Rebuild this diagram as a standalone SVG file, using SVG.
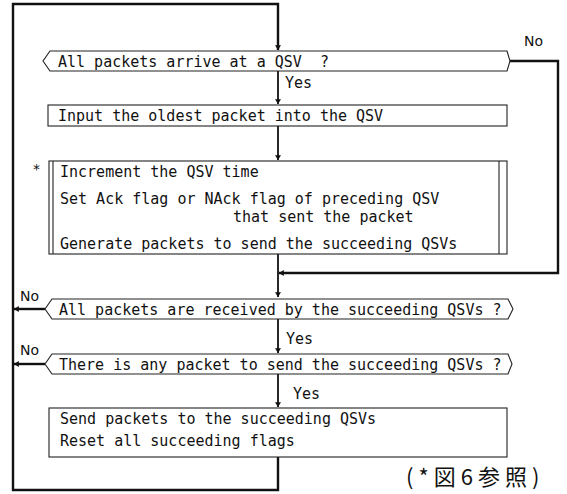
<svg xmlns="http://www.w3.org/2000/svg" width="567" height="494" viewBox="0 0 567 494">
<style>
.t{font-family:"DejaVu Sans Mono","Liberation Mono",monospace;font-size:15px;fill:#111}
.s{font-family:"DejaVu Sans","Liberation Sans",sans-serif;font-size:14px;fill:#111}
.box{fill:#fff;stroke:#222;stroke-width:1.1}
.loop{fill:none;stroke:#111;stroke-width:2.4}
.ln{fill:none;stroke:#111;stroke-width:1.8}
</style>
<defs>
<marker id="ar" viewBox="0 0 8 10" refX="8" refY="5" markerWidth="5" markerHeight="6" orient="auto" markerUnits="userSpaceOnUse">
<path d="M0,0 L8,5 L0,10 Z" fill="#111"/>
</marker>
</defs>
<rect width="567" height="494" fill="#fff"/>
<g id="connectors">
<path class="loop" d="M278,457 V490 H13 V4 H278 V50" marker-end="url(#ar)"/>
<path class="ln" d="M278,71 V104" marker-end="url(#ar)"/>
<path class="ln" d="M278,126 V160" marker-end="url(#ar)"/>
<path class="ln" d="M278,254 V297" marker-end="url(#ar)"/>
<path class="loop" d="M510,61 H558 V273 H279" marker-end="url(#ar)"/>
<path class="ln" d="M278,319 V353" marker-end="url(#ar)"/>
<path class="ln" d="M278,374 V407" marker-end="url(#ar)"/>
<path class="loop" d="M45,309 H14" marker-end="url(#ar)"/>
<path class="loop" d="M45,364 H14" marker-end="url(#ar)"/>
<text class="s" x="524" y="46">No</text>
<text class="t" x="285" y="88">Yes</text>
<text class="s" x="20" y="301">No</text>
<text class="t" x="286" y="344">Yes</text>
<text class="s" x="20" y="355">No</text>
<text class="t" x="293" y="399">Yes</text>
</g>
<g id="decision1">
<path class="box" d="M50,51 H507 L510,61 L507,71 H50 L43,61 Z"/>
<text class="t" x="58" y="67">All packets arrive at a QSV&#160;&#160;?</text>
</g>
<g id="process1">
<rect class="box" x="48" y="105" width="459" height="21"/>
<text class="t" x="58" y="121">Input the oldest packet into the QSV</text>
</g>
<g id="process2">
<rect class="box" x="49" y="161" width="458" height="93"/>
<line class="box" x1="53" y1="161" x2="53" y2="254"/>
<line class="box" x1="499" y1="161" x2="499" y2="254"/>
<text class="s" x="33" y="174">*</text>
<text class="t" x="60" y="177">Increment the QSV time</text>
<text class="t" x="60" y="204">Set Ack flag or NAck flag of preceding QSV</text>
<text class="t" x="233" y="222">that sent the packet</text>
<text class="t" x="60" y="249">Generate packets to send the succeeding QSVs</text>
</g>
<g id="decision2">
<path class="box" d="M52,299 H508 L513,309 L508,319 H52 L45,309 Z"/>
<text class="t" x="59" y="315">All packets are received by the succeeding QSVs ?</text>
</g>
<g id="decision3">
<path class="box" d="M52,354 H508 L512,364 L508,374 H52 L45,364 Z"/>
<text class="t" x="59" y="370">There is any packet to send the succeeding QSVs ?</text>
</g>
<g id="process3">
<rect class="box" x="49" y="408" width="458" height="49"/>
<text class="t" x="60" y="424">Send packets to the succeeding QSVs</text>
<text class="t" x="60" y="446">Reset all succeeding flags</text>
</g>
<text x="406" y="485" style="font-family:'Noto Sans CJK JP',sans-serif;font-size:22px;letter-spacing:5px;fill:#111">(*図6参照)</text>
</svg>
